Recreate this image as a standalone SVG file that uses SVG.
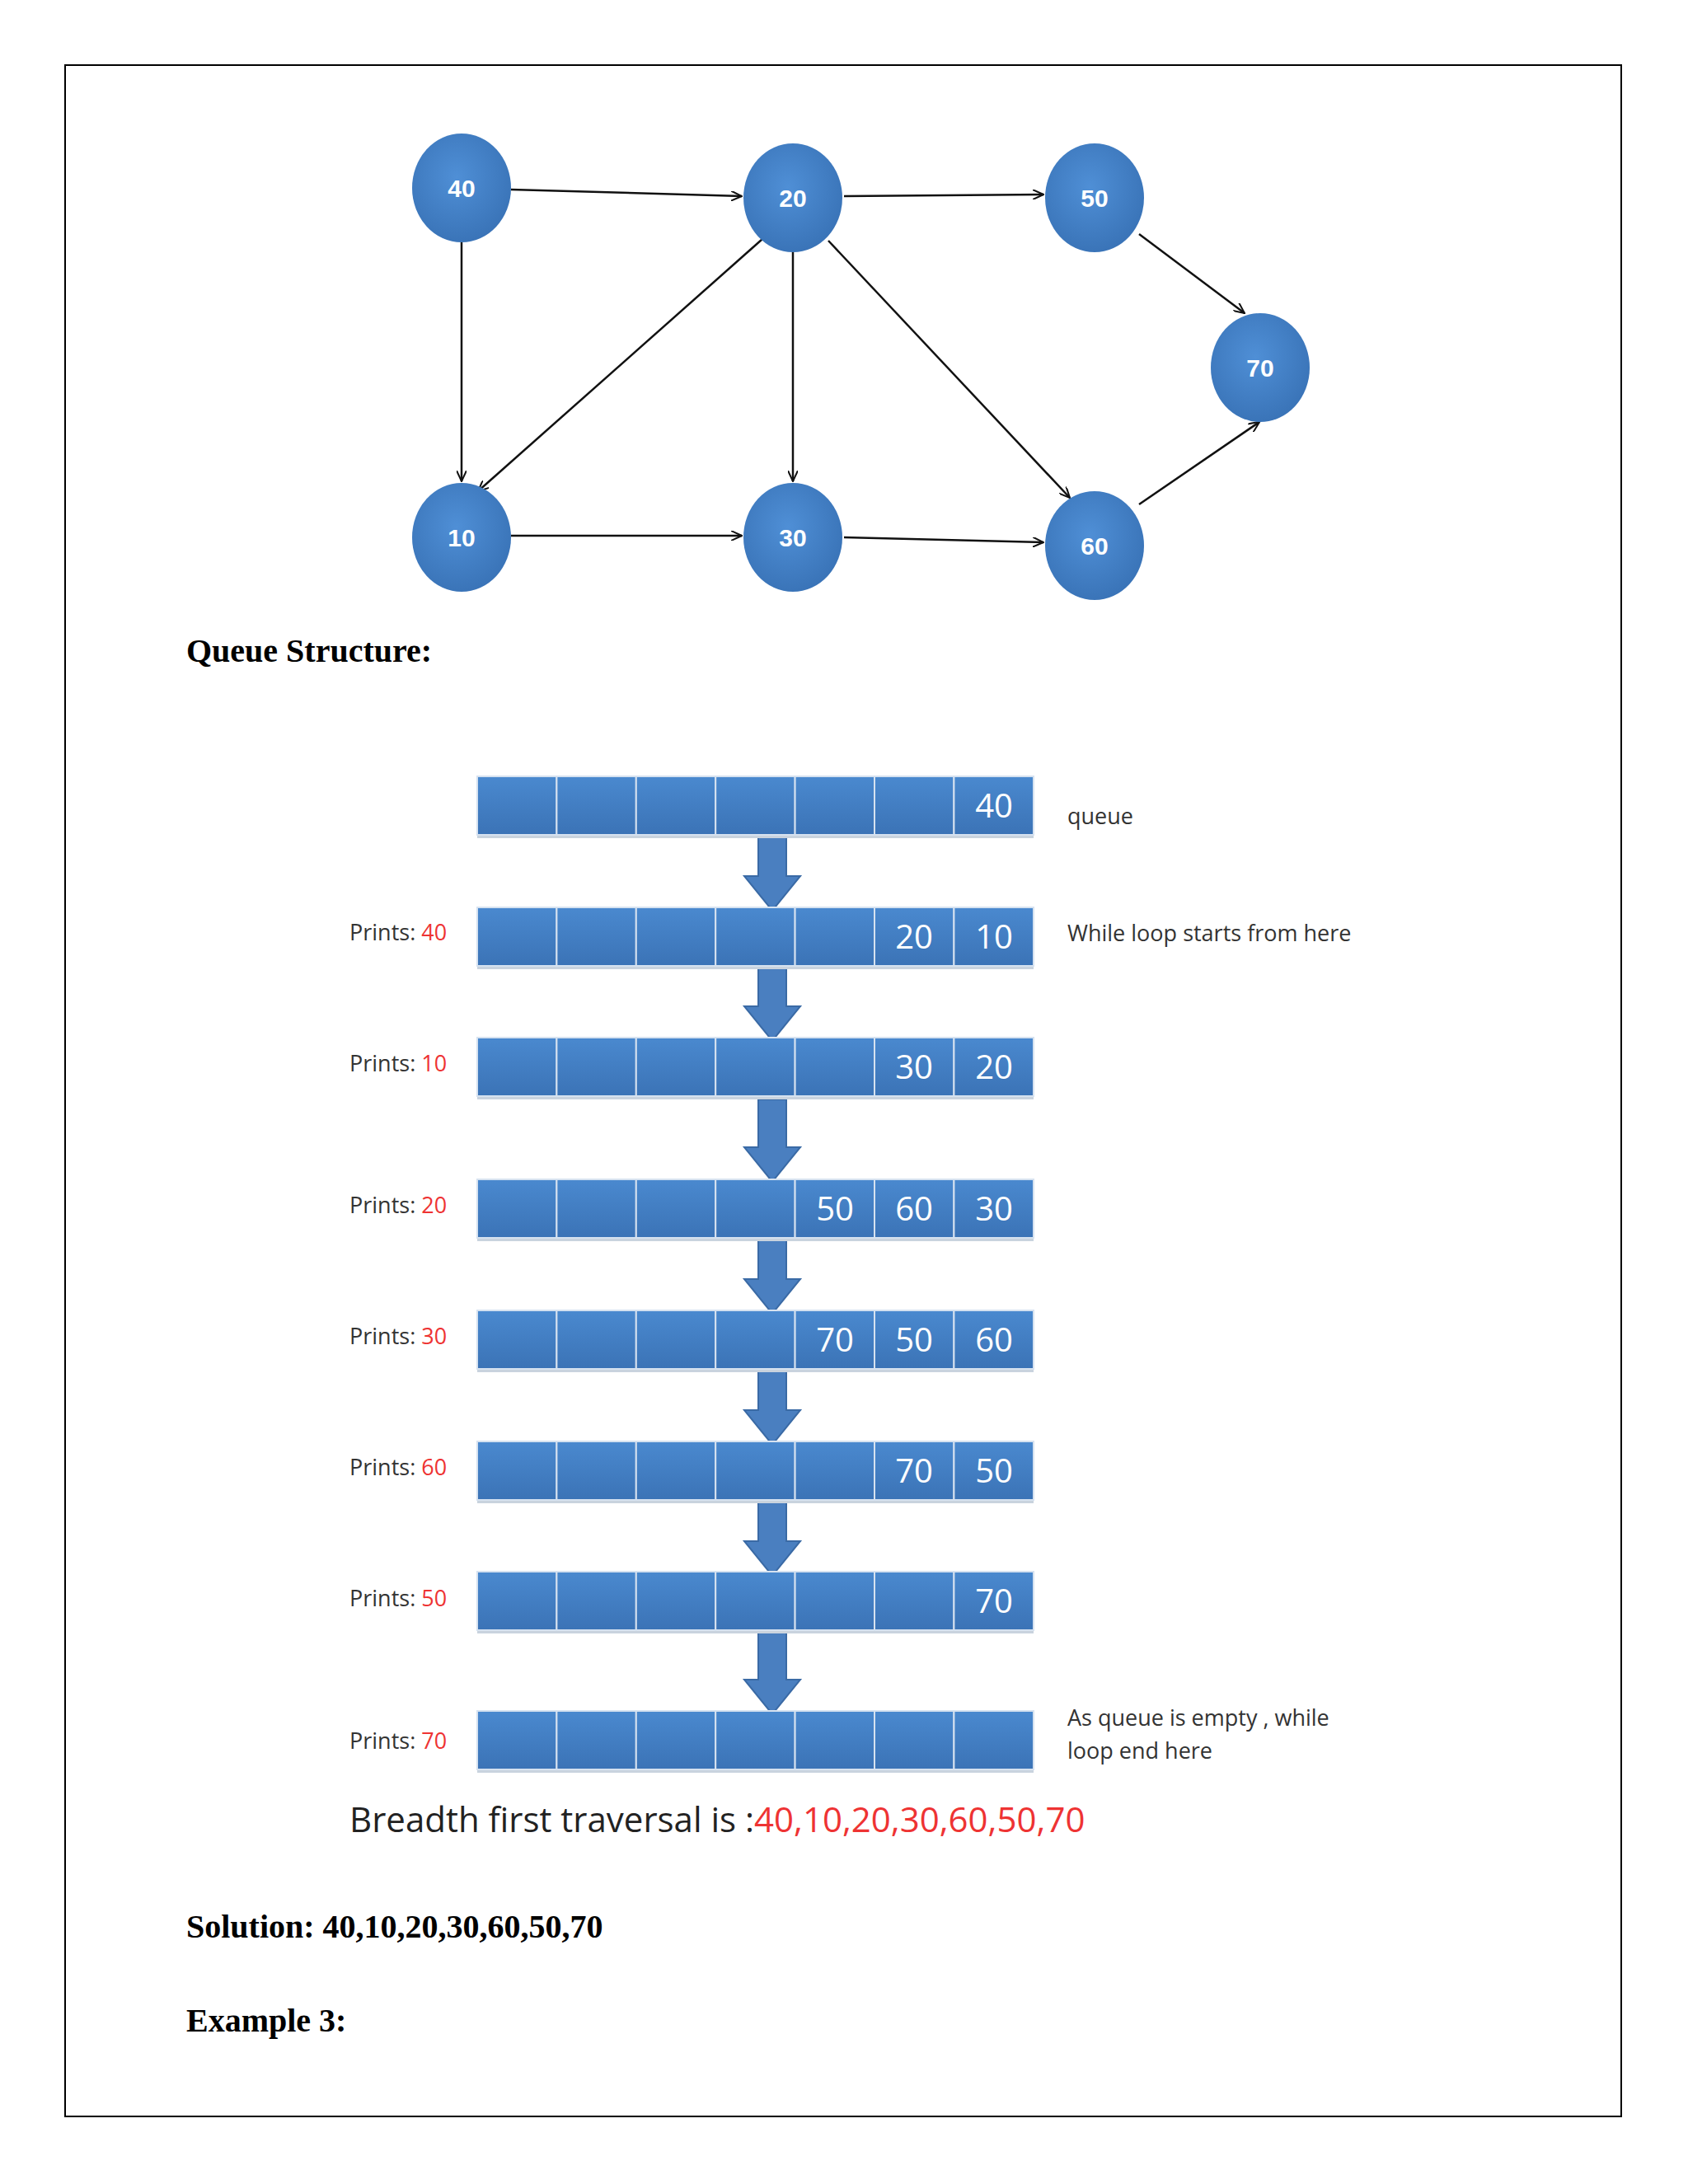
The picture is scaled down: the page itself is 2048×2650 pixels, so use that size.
<svg xmlns="http://www.w3.org/2000/svg" width="2048" height="2650" viewBox="0 0 2048 2650">
<style>
.n{fill:url(#g)}
.nt{font-family:"Liberation Sans",sans-serif;font-size:30px;fill:#fff;text-anchor:middle;font-weight:bold}
.e{stroke:#111;stroke-width:2.5;fill:none;marker-end:url(#ah)}
.c{fill:url(#cg);stroke:#d6e2f0;stroke-width:2}
.ct{font-family:"Open Sans",sans-serif;font-size:40px;fill:#fff;text-anchor:middle}
.p{font-family:"Open Sans",sans-serif;font-size:27px;fill:#333}
.r{fill:#e33}
.h{font-family:"Liberation Serif",serif;font-size:40px;font-weight:bold;fill:#000}
.ar{fill:#4a7fc0;stroke:#3a6aa5;stroke-width:2}
</style>
<defs>
<radialGradient id="g" cx="0.45" cy="0.4" r="0.6"><stop offset="0" stop-color="#4f8fd6"/><stop offset="1" stop-color="#3a74b8"/></radialGradient>
<linearGradient id="cg" x1="0" y1="0" x2="0" y2="1"><stop offset="0" stop-color="#4a89cf"/><stop offset="1" stop-color="#3b73b6"/></linearGradient>
<marker id="ah" markerWidth="14" markerHeight="12" refX="13" refY="6" orient="auto" markerUnits="userSpaceOnUse"><path d="M0,0 L13,6 L0,12" fill="none" stroke="#111" stroke-width="2"/></marker>
<g id="arrowshape"><path d="M-17,0 H17 V58 H34 L0,100 L-34,58 H-17 Z" class="ar"/></g>
</defs>
<rect width="2048" height="2650" fill="#fff"/>
<rect x="79" y="79" width="1888" height="2489" fill="none" stroke="#000" stroke-width="2"/>
<g id="connectors">
<line class="e" x1="620" y1="230" x2="900" y2="238"/>
<line class="e" x1="560" y1="294" x2="560" y2="584"/>
<line class="e" x1="1024" y1="238" x2="1266" y2="236"/>
<line class="e" x1="925" y1="290" x2="580" y2="596"/>
<line class="e" x1="962" y1="306" x2="962" y2="584"/>
<line class="e" x1="1005" y1="292" x2="1298" y2="604"/>
<line class="e" x1="1382" y1="284" x2="1510" y2="380"/>
<line class="e" x1="620" y1="650" x2="900" y2="650"/>
<line class="e" x1="1024" y1="652" x2="1266" y2="658"/>
<line class="e" x1="1382" y1="612" x2="1528" y2="512"/>
</g>
<g id="n40"><ellipse class="n" cx="560" cy="228" rx="60" ry="66"/><text class="nt" x="560" y="239">40</text></g>
<g id="n20"><ellipse class="n" cx="962" cy="240" rx="60" ry="66"/><text class="nt" x="962" y="251">20</text></g>
<g id="n50"><ellipse class="n" cx="1328" cy="240" rx="60" ry="66"/><text class="nt" x="1328" y="251">50</text></g>
<g id="n70"><ellipse class="n" cx="1529" cy="446" rx="60" ry="66"/><text class="nt" x="1529" y="457">70</text></g>
<g id="n10"><ellipse class="n" cx="560" cy="652" rx="60" ry="66"/><text class="nt" x="560" y="663">10</text></g>
<g id="n30"><ellipse class="n" cx="962" cy="652" rx="60" ry="66"/><text class="nt" x="962" y="663">30</text></g>
<g id="n60"><ellipse class="n" cx="1328" cy="662" rx="60" ry="66"/><text class="nt" x="1328" y="673">60</text></g>
<text class="h" x="226" y="803">Queue Structure:</text>
<g id="arrows">
<use href="#arrowshape" x="937" y="1005"/>
<use href="#arrowshape" x="937" y="1163"/>
<use href="#arrowshape" x="937" y="1334"/>
<use href="#arrowshape" x="937" y="1494"/>
<use href="#arrowshape" x="937" y="1653"/>
<use href="#arrowshape" x="937" y="1812"/>
<use href="#arrowshape" x="937" y="1980"/>
</g>
<g id="rows" fill="none">
<g id="row1" transform="translate(579,942)"><rect x="0" y="70" width="675" height="5" fill="#c9d3de"/><rect class="c" x="0" y="0" width="96.4" height="71"/><rect class="c" x="96.4" y="0" width="96.4" height="71"/><rect class="c" x="192.8" y="0" width="96.4" height="71"/><rect class="c" x="289.2" y="0" width="96.4" height="71"/><rect class="c" x="385.6" y="0" width="96.4" height="71"/><rect class="c" x="482" y="0" width="96.4" height="71"/><rect class="c" x="578.4" y="0" width="96.6" height="71"/><text class="ct" x="627" y="50">40</text></g>
<g id="row2" transform="translate(579,1101)"><rect x="0" y="70" width="675" height="5" fill="#c9d3de"/><rect class="c" x="0" y="0" width="96.4" height="71"/><rect class="c" x="96.4" y="0" width="96.4" height="71"/><rect class="c" x="192.8" y="0" width="96.4" height="71"/><rect class="c" x="289.2" y="0" width="96.4" height="71"/><rect class="c" x="385.6" y="0" width="96.4" height="71"/><rect class="c" x="482" y="0" width="96.4" height="71"/><rect class="c" x="578.4" y="0" width="96.6" height="71"/><text class="ct" x="530" y="50">20</text><text class="ct" x="627" y="50">10</text></g>
<g id="row3" transform="translate(579,1259)"><rect x="0" y="70" width="675" height="5" fill="#c9d3de"/><rect class="c" x="0" y="0" width="96.4" height="71"/><rect class="c" x="96.4" y="0" width="96.4" height="71"/><rect class="c" x="192.8" y="0" width="96.4" height="71"/><rect class="c" x="289.2" y="0" width="96.4" height="71"/><rect class="c" x="385.6" y="0" width="96.4" height="71"/><rect class="c" x="482" y="0" width="96.4" height="71"/><rect class="c" x="578.4" y="0" width="96.6" height="71"/><text class="ct" x="530" y="50">30</text><text class="ct" x="627" y="50">20</text></g>
<g id="row4" transform="translate(579,1431)"><rect x="0" y="70" width="675" height="5" fill="#c9d3de"/><rect class="c" x="0" y="0" width="96.4" height="71"/><rect class="c" x="96.4" y="0" width="96.4" height="71"/><rect class="c" x="192.8" y="0" width="96.4" height="71"/><rect class="c" x="289.2" y="0" width="96.4" height="71"/><rect class="c" x="385.6" y="0" width="96.4" height="71"/><rect class="c" x="482" y="0" width="96.4" height="71"/><rect class="c" x="578.4" y="0" width="96.6" height="71"/><text class="ct" x="434" y="50">50</text><text class="ct" x="530" y="50">60</text><text class="ct" x="627" y="50">30</text></g>
<g id="row5" transform="translate(579,1590)"><rect x="0" y="70" width="675" height="5" fill="#c9d3de"/><rect class="c" x="0" y="0" width="96.4" height="71"/><rect class="c" x="96.4" y="0" width="96.4" height="71"/><rect class="c" x="192.8" y="0" width="96.4" height="71"/><rect class="c" x="289.2" y="0" width="96.4" height="71"/><rect class="c" x="385.6" y="0" width="96.4" height="71"/><rect class="c" x="482" y="0" width="96.4" height="71"/><rect class="c" x="578.4" y="0" width="96.6" height="71"/><text class="ct" x="434" y="50">70</text><text class="ct" x="530" y="50">50</text><text class="ct" x="627" y="50">60</text></g>
<g id="row6" transform="translate(579,1749)"><rect x="0" y="70" width="675" height="5" fill="#c9d3de"/><rect class="c" x="0" y="0" width="96.4" height="71"/><rect class="c" x="96.4" y="0" width="96.4" height="71"/><rect class="c" x="192.8" y="0" width="96.4" height="71"/><rect class="c" x="289.2" y="0" width="96.4" height="71"/><rect class="c" x="385.6" y="0" width="96.4" height="71"/><rect class="c" x="482" y="0" width="96.4" height="71"/><rect class="c" x="578.4" y="0" width="96.6" height="71"/><text class="ct" x="530" y="50">70</text><text class="ct" x="627" y="50">50</text></g>
<g id="row7" transform="translate(579,1907)"><rect x="0" y="70" width="675" height="5" fill="#c9d3de"/><rect class="c" x="0" y="0" width="96.4" height="71"/><rect class="c" x="96.4" y="0" width="96.4" height="71"/><rect class="c" x="192.8" y="0" width="96.4" height="71"/><rect class="c" x="289.2" y="0" width="96.4" height="71"/><rect class="c" x="385.6" y="0" width="96.4" height="71"/><rect class="c" x="482" y="0" width="96.4" height="71"/><rect class="c" x="578.4" y="0" width="96.6" height="71"/><text class="ct" x="627" y="50">70</text></g>
<g id="row8" transform="translate(579,2076)"><rect x="0" y="70" width="675" height="5" fill="#c9d3de"/><rect class="c" x="0" y="0" width="96.4" height="71"/><rect class="c" x="96.4" y="0" width="96.4" height="71"/><rect class="c" x="192.8" y="0" width="96.4" height="71"/><rect class="c" x="289.2" y="0" width="96.4" height="71"/><rect class="c" x="385.6" y="0" width="96.4" height="71"/><rect class="c" x="482" y="0" width="96.4" height="71"/><rect class="c" x="578.4" y="0" width="96.6" height="71"/></g>
</g>
<g id="labels">
<text class="p" x="424" y="1141">Prints: <tspan class="r">40</tspan></text>
<text class="p" x="424" y="1300">Prints: <tspan class="r">10</tspan></text>
<text class="p" x="424" y="1472">Prints: <tspan class="r">20</tspan></text>
<text class="p" x="424" y="1631">Prints: <tspan class="r">30</tspan></text>
<text class="p" x="424" y="1790">Prints: <tspan class="r">60</tspan></text>
<text class="p" x="424" y="1949">Prints: <tspan class="r">50</tspan></text>
<text class="p" x="424" y="2122">Prints: <tspan class="r">70</tspan></text>
<text class="p" x="1295" y="1000">queue</text>
<text class="p" x="1295" y="1142">While loop starts from here</text>
<text class="p" x="1295" y="2094">As queue is empty , while</text>
<text class="p" x="1295" y="2134">loop end here</text>
<text x="424" y="2223" font-family="Open Sans,sans-serif" font-size="42" fill="#222">Breadth first traversal is :<tspan class="r">40,10,20,30,60,50,70</tspan></text>
</g>
<text class="h" x="226" y="2351">Solution: 40,10,20,30,60,50,70</text>
<text class="h" x="226" y="2465">Example 3:</text>
</svg>
